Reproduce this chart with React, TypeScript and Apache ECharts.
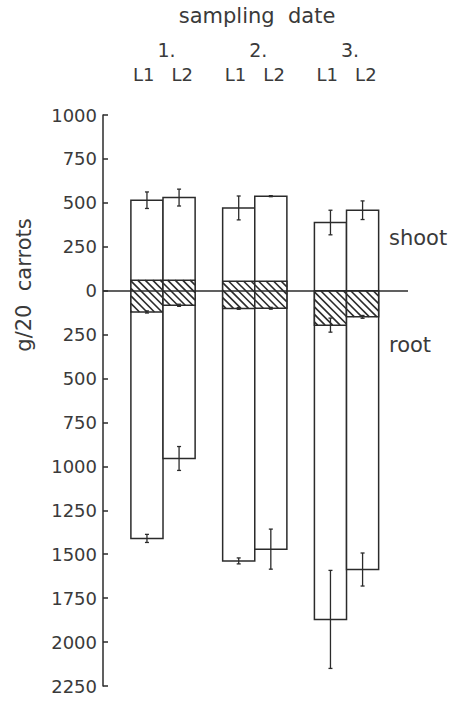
import React, { useEffect, useRef } from "react";
import * as echarts from "echarts";

const dates = ["1.", "2.", "3."];
const levels = ["L1", "L2"];

const shootL1 = [515, 471, 388];
const shootErrL1 = [47, 68, 70];
const shootL2 = [530, 538, 458];
const shootErrL2 = [48, 3, 53];

const rootL1 = [1410, 1538, 1871];
const rootErrL1 = [23, 17, 279];
const rootL2 = [955, 1471, 1587];
const rootErrL2 = [68, 114, 94];

const hatchTopL1 = [60, 54, 0];
const hatchTopL2 = [60, 54, 0];
const hatchBottomL1 = [121, 101, 196];
const hatchBottomL2 = [83, 100, 149];
const hatchErrL1 = [6, 5, 40];
const hatchErrL2 = [6, 5, 8];

const yRange = [-2250, 1000];

const INK = "#2b2b2b";
const TEXT = "#3a3a3a";
const FONT = "DejaVu Sans";
const LW = 1.5;

function makeRender(offset: number) {
  return (params: any, api: any) => {
    const x = api.value(0) + offset;
    const shoot = api.value(1);
    const sErr = api.value(2);
    const root = api.value(3);
    const rErr = api.value(4);
    const hTop = api.value(5);
    const hBot = api.value(6);
    const hErr = api.value(7);
    const half = 0.175;
    const [xl, yTop] = api.coord([x - half, shoot]);
    const [xr, yBot] = api.coord([x + half, -root]);
    const [xc] = api.coord([x, 0]);
    const yhT = api.coord([x, hTop])[1];
    const yhB = api.coord([x, -hBot])[1];
    const lineStyle = { stroke: INK, lineWidth: 1.3, fill: null };
    const children: any[] = [];
    children.push({
      type: "rect",
      shape: { x: xl, y: yTop, width: xr - xl, height: yBot - yTop },
      style: { fill: "#fff", stroke: INK, lineWidth: LW },
    });
    children.push({
      type: "rect",
      shape: { x: xl, y: yhT, width: xr - xl, height: yhB - yhT },
      style: { fill: "#fff", stroke: INK, lineWidth: LW },
    });
    const step = 7.5;
    const kStart = Math.floor((xl - yhB) / step) * step;
    for (let k = kStart; k <= xr - yhT; k += step) {
      const xs = Math.max(xl, yhT + k);
      const xe = Math.min(xr, yhB + k);
      if (xe > xs) {
        children.push({
          type: "line",
          shape: { x1: xs, y1: xs - k, x2: xe, y2: xe - k },
          style: { stroke: INK, lineWidth: 1.6 },
        });
      }
    }
    const err = (v: number, e: number) => {
      const y1 = api.coord([x, v + e])[1];
      const y2 = api.coord([x, v - e])[1];
      children.push({ type: "line", shape: { x1: xc, y1, x2: xc, y2 }, style: lineStyle });
      children.push({ type: "line", shape: { x1: xc - 2, y1, x2: xc + 2, y2: y1 }, style: lineStyle });
      children.push({ type: "line", shape: { x1: xc - 2, y1: y2, x2: xc + 2, y2 }, style: lineStyle });
    };
    err(shoot, sErr);
    err(-root, rErr);
    err(-hBot, hErr);
    return { type: "group", children };
  };
}

function buildData(shoot: number[], sErr: number[], root: number[], rErr: number[], hT: number[], hB: number[], hE: number[]) {
  return dates.map((_, i) => [i + 1, shoot[i], sErr[i], root[i], rErr[i], hT[i], hB[i], hE[i]]);
}

export default function App() {
  const ref = useRef<HTMLDivElement>(null);
  useEffect(() => {
    if (!ref.current) return;
    const chart = echarts.init(ref.current, undefined, { renderer: "svg" });
    const xMin = 0.346;
    const xMax = 3.67;
    chart.setOption({
      animation: false,
      backgroundColor: "#fff",
      textStyle: { fontFamily: FONT },
      grid: { left: 103, right: 56, top: 115, bottom: 16 },
      xAxis: {
        type: "value",
        position: "top",
        min: xMin,
        max: xMax,
        axisLine: { show: false },
        axisTick: { show: false },
        splitLine: { show: false },
        axisLabel: {
          customValues: [1, 2, 3],
          margin: 28,
          formatter: (v: number) => `{d|${dates[Math.round(v) - 1]}}\n{l|${levels[0]}   ${levels[1]}}`,
          rich: {
            d: { fontSize: 19, color: TEXT, fontFamily: FONT, lineHeight: 25, padding: [0, 0, 0, 7] },
            l: { fontSize: 18, color: TEXT, fontFamily: FONT, lineHeight: 25 },
          },
        },
      },
      yAxis: {
        type: "value",
        min: yRange[0],
        max: yRange[1],
        interval: 250,
        axisLine: { show: true, lineStyle: { color: INK, width: LW } },
        axisTick: { show: true, inside: true, length: 5, lineStyle: { color: INK, width: LW } },
        splitLine: { show: false },
        axisLabel: {
          margin: 6,
          fontSize: 18,
          color: TEXT,
          fontFamily: FONT,
          formatter: (v: number) => String(Math.abs(v)),
        },
      },
      graphic: [
        {
          type: "text",
          x: 257,
          y: 16,
          style: { text: "sampling  date", fontSize: 21, fill: TEXT, fontFamily: FONT, align: "center", verticalAlign: "middle" },
        },
        {
          type: "text",
          x: 24,
          y: 285,
          rotation: Math.PI / 2,
          style: { text: "g/20  carrots", fontSize: 21, fill: TEXT, fontFamily: FONT, align: "center", verticalAlign: "middle" },
        },
        {
          type: "text",
          x: 389,
          y: 238,
          style: { text: "shoot", fontSize: 21, fill: TEXT, fontFamily: FONT, align: "left", verticalAlign: "middle" },
        },
        {
          type: "text",
          x: 389,
          y: 345,
          style: { text: "root", fontSize: 21, fill: TEXT, fontFamily: FONT, align: "left", verticalAlign: "middle" },
        },
      ],
      series: [
        {
          name: levels[0],
          type: "custom",
          clip: false,
          renderItem: makeRender(-0.175),
          encode: { x: 0, y: 1 },
          data: buildData(shootL1, shootErrL1, rootL1, rootErrL1, hatchTopL1, hatchBottomL1, hatchErrL1),
        },
        {
          name: levels[1],
          type: "custom",
          clip: false,
          renderItem: makeRender(0.175),
          encode: { x: 0, y: 1 },
          data: buildData(shootL2, shootErrL2, rootL2, rootErrL2, hatchTopL2, hatchBottomL2, hatchErrL2),
          markLine: {
            silent: true,
            symbol: "none",
            z: 10,
            label: { show: false },
            lineStyle: { color: INK, width: LW, type: "solid" },
            data: [{ yAxis: 0 }],
          },
        },
      ],
    });
    return () => chart.dispose();
  }, []);
  return <div ref={ref} style={{ width: 464, height: 702, position: "absolute", left: 0, top: 0 }} />;
}
